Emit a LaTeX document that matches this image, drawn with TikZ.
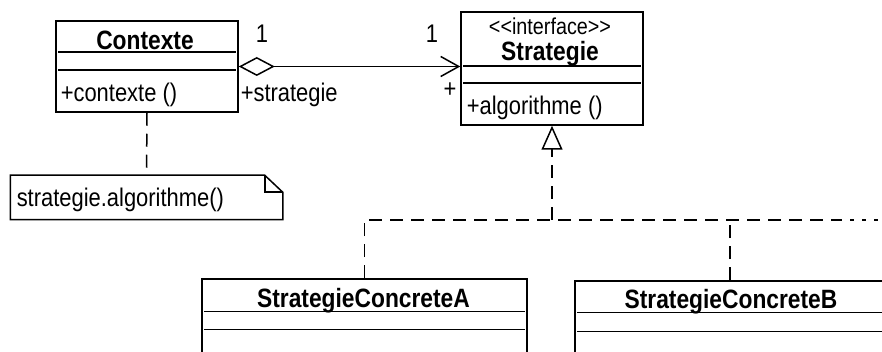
\documentclass[tikz,border=0pt]{standalone}
\usepackage{fontspec}
\setmainfont[FakeStretch=0.86]{Liberation Sans}
\usetikzlibrary{arrows.meta,calc}

\tikzset{every picture/.style={line width=1.5pt}}
\tikzset{
  classbox/.style={draw, fill=white, inner sep=0pt},
  txt/.style={inner sep=0pt, font=\fontsize{25.5}{29}\selectfont},
  smalltxt/.style={inner sep=0pt, font=\fontsize{23}{27}\selectfont},
  titletxt/.style={inner sep=0pt, font=\fontsize{26.5}{30}\selectfont\bfseries},
  realize/.style={dash pattern=on 13pt off 8pt},
}

\begin{document}
\begin{tikzpicture}[x=1pt,y=1pt,yscale=-1,xscale=1]
\useasboundingbox (0,0) rectangle (882,352);
\fill[white] (0,0) rectangle (882,352);
\clip (0,0) rectangle (882,352);

% Contexte
\node[classbox, minimum width=182pt, minimum height=91pt] (ctx) at (147,66.5) {};
\node[titletxt, anchor=base] (ctxname) at (145,50) {Contexte};
\draw ($(ctx.north west)+(3,32)$) -- ($(ctx.north east)+(-3,32)$);
\draw ($(ctx.north west)+(3,50)$) -- ($(ctx.north east)+(-3,50)$);
\node[txt, anchor=base west] (ctxop) at (60,102) {+contexte ()};

% Strategie
\node[classbox, minimum width=182pt, minimum height=113pt] (strat) at (552,68.5) {};
\node[smalltxt, anchor=base] (stratster) at (550,35) {<{}<interface>{}>};
\node[titletxt, anchor=base] (stratname) at (550,61) {Strategie};
\draw ($(strat.north west)+(3,55)$) -- ($(strat.north east)+(-3,55)$);
\draw ($(strat.north west)+(3,72)$) -- ($(strat.north east)+(-3,72)$);
\node[txt, anchor=base west] (stratop) at (466,115) {+algorithme ()};

% StrategieConcreteA
\node[classbox, minimum width=325pt, minimum height=91pt] (concA) at (364.5,324.5) {};
\node[titletxt, anchor=base] (concAname) at (363.5,307) {StrategieConcreteA};
\draw ($(concA.north west)+(3,33)$) -- ($(concA.north east)+(-3,33)$);
\draw ($(concA.north west)+(3,51)$) -- ($(concA.north east)+(-3,51)$);

% StrategieConcreteB
\node[classbox, minimum width=310pt, minimum height=91pt] (concB) at (730,326.5) {};
\node[titletxt, anchor=base] (concBname) at (731,308) {StrategieConcreteB};
\draw ($(concB.north west)+(3,32)$) -- ($(concB.north east)+(-3,32)$);
\draw ($(concB.north west)+(3,51)$) -- ($(concB.north east)+(-3,51)$);

% Note
\node[minimum width=271pt, minimum height=43pt, inner sep=0pt] (note) at (146.5,197.5) {};
\node[txt, anchor=base west] (notetxt) at (16,207) {strategie.algorithme()};
\draw (note.north west) -- ($(note.north east)+(-18,0)$) -- ($(note.north east)+(0,17)$)
  -- (note.south east) -- (note.south west) -- cycle;
\draw ($(note.north east)+(-18,0)$) |- ($(note.north east)+(0,17)$);
\draw[realize] (ctx.south) -- (note.north);

% Association
\draw[{Diamond[open, length=36pt, width=19pt]}-{Straight Barb[length=18pt, width=20pt]}]
  (ctx.east) -- (ctx.east -| strat.west);
\node[txt, anchor=base] (mulctx) at (262,43) {1};
\node[txt, anchor=base] (mulstrat) at (432,43) {1};
\node[txt, anchor=base west] (rolename) at (240,102) {+strategie};
\node[txt] (rolevis) at (450,90) {+};

% Realisation
\coordinate (j) at (552,220);
\coordinate (rightend) at (838,220);
\coordinate (edge) at (882,220);
\draw[realize, -{Triangle[open, length=24pt, width=21pt]}] (j) -- (strat.south);
\draw[realize] (concA.north) |- (rightend);
\draw[realize] (concB.north) -- (concB.north |- j);
\draw[dash pattern=on 4pt off 8pt] (rightend) -- (edge);
\end{tikzpicture}
\end{document}
